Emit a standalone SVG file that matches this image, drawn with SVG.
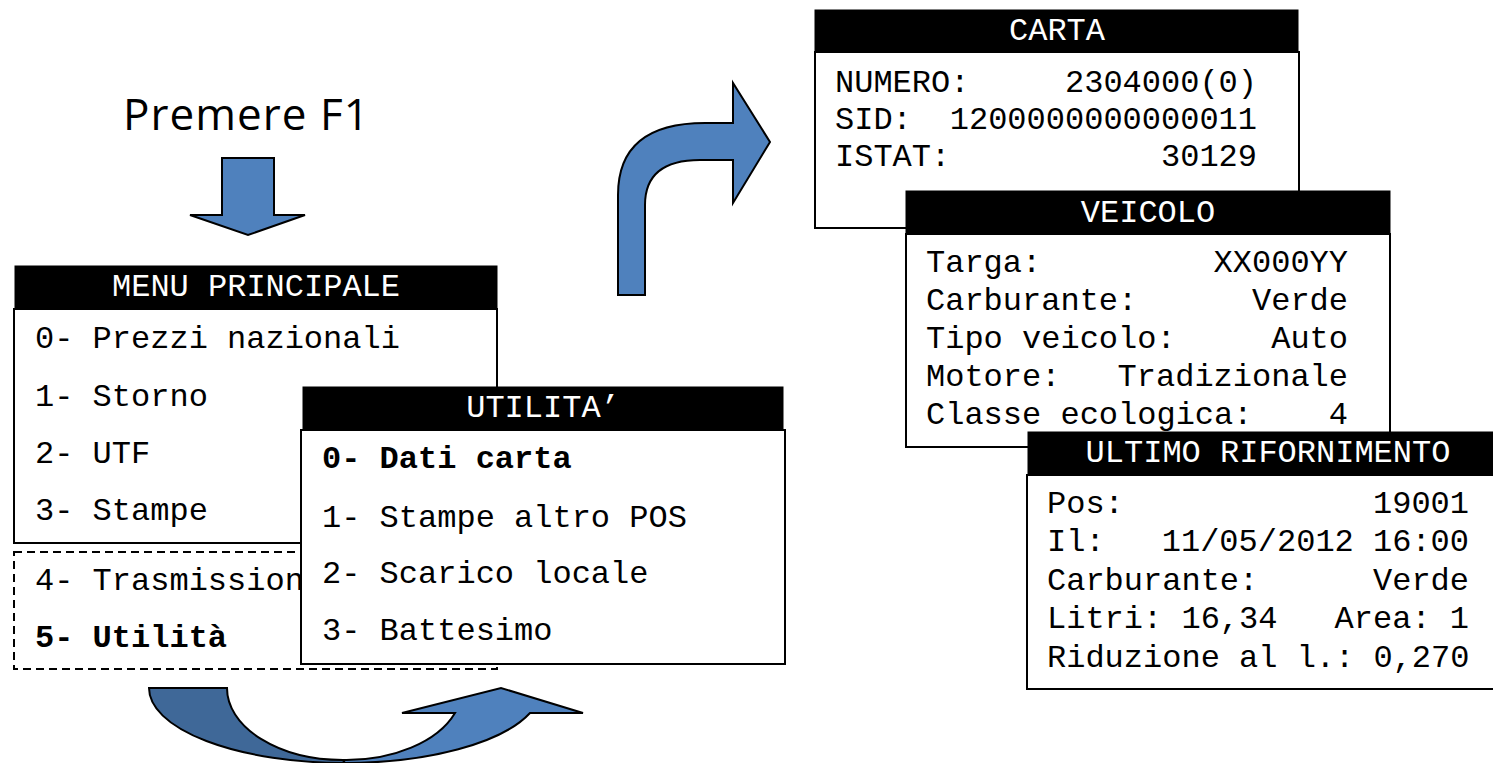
<svg xmlns="http://www.w3.org/2000/svg" width="1493" height="763" viewBox="0 0 1493 763">
<style>
.hd{fill:#000;stroke:#000;stroke-width:1}
.bx{fill:#fff;stroke:#000;stroke-width:2}
.dash{fill:#fff;stroke:#000;stroke-width:2;stroke-dasharray:8 5}
.m{font-family:"Liberation Mono","Courier New",monospace;font-size:32px;fill:#000}
.ht{font-family:"Liberation Mono","Courier New",monospace;font-size:32px;fill:#fff;text-anchor:middle}
.b{font-weight:bold}
.r{text-anchor:end}
.arr{fill:#4F81BD;stroke:#000;stroke-width:2;stroke-linejoin:miter}
.arrd{fill:#3F6898;stroke:#000;stroke-width:2}
</style>
<rect width="1493" height="763" fill="#fff"/>
<text id="title" x="123" y="130" font-family="'Open Sans','Noto Sans',sans-serif" font-size="44" textLength="246" fill="#000">Premere F1</text>
<g id="connectors">
  <path class="arr" d="M222,158 L274,158 L274,215 L305,215 L248,235 L190,215 L222,215 Z"/>
  <path class="arr" d="M618,295 L618,195 Q618,123 705,123 L733,123 L733,83 L770,142 L733,203 L733,160 L700,160 Q645,160 645,205 L645,295 Z"/>
  <path class="arrd" d="M149,688 L227,688 A116,72 0 0 0 343,760 L345,763 A196,75 0 0 1 149,688 Z"/>
  <path class="arr" d="M343,760 A116,72 0 0 0 455,713 L402,713 L501,688 L583,713 L530,713 A196,75 0 0 1 345,763 Z"/>
</g>
<g id="menu-principale">
  <rect class="bx" x="14" y="309" width="483" height="234"/>
  <rect class="dash" x="14" y="552" width="483" height="117"/>
  <rect class="hd" x="15" y="266" width="482" height="43"/>
  <text class="ht" x="256" y="296">MENU PRINCIPALE</text>
  <text class="m" x="35" y="348">0- Prezzi nazionali</text>
  <text class="m" x="35" y="406">1- Storno</text>
  <text class="m" x="35" y="463">2- UTF</text>
  <text class="m" x="35" y="520">3- Stampe</text>
  <text class="m" x="35" y="590">4- Trasmission</text>
  <text class="m b" x="35" y="647">5- Utilità</text>
</g>
<g id="utilita">
  <rect class="hd" x="303" y="387" width="480" height="43"/>
  <rect class="bx" x="301" y="430" width="484" height="234"/>
  <text class="ht" x="543" y="417">UTILITA’</text>
  <text class="m b" x="322" y="468">0- Dati carta</text>
  <text class="m" x="322" y="527">1- Stampe altro POS</text>
  <text class="m" x="322" y="583">2- Scarico locale</text>
  <text class="m" x="322" y="640">3- Battesimo</text>
</g>
<g id="carta">
  <rect class="bx" x="815" y="52" width="484" height="176"/>
  <rect class="hd" x="815" y="10" width="483" height="42"/>
  <text class="ht" x="1057" y="40">CARTA</text>
  <text class="m" x="835" y="92">NUMERO:</text><text class="m r" x="1257" y="92">2304000(0)</text>
  <text class="m" x="835" y="129">SID:</text><text class="m r" x="1257" y="129">1200000000000011</text>
  <text class="m" x="835" y="166">ISTAT:</text><text class="m r" x="1257" y="166">30129</text>
</g>
<g id="veicolo">
  <rect class="bx" x="906" y="234" width="484" height="213"/>
  <rect class="hd" x="906" y="191" width="484" height="43"/>
  <text class="ht" x="1148" y="222">VEICOLO</text>
  <text class="m" x="926" y="272">Targa:</text><text class="m r" x="1348" y="272">XX000YY</text>
  <text class="m" x="926" y="310">Carburante:</text><text class="m r" x="1348" y="310">Verde</text>
  <text class="m" x="926" y="348">Tipo veicolo:</text><text class="m r" x="1348" y="348">Auto</text>
  <text class="m" x="926" y="386">Motore:</text><text class="m r" x="1348" y="386">Tradizionale</text>
  <text class="m" x="926" y="424">Classe ecologica:</text><text class="m r" x="1348" y="424">4</text>
</g>
<g id="ultimo-rifornimento">
  <rect class="bx" x="1027" y="475" width="475" height="214"/>
  <rect class="hd" x="1028" y="432" width="470" height="43"/>
  <text class="ht" x="1268" y="462">ULTIMO RIFORNIMENTO</text>
  <text class="m" x="1047" y="513">Pos:</text><text class="m r" x="1469" y="513">19001</text>
  <text class="m" x="1047" y="551">Il:</text><text class="m r" x="1469" y="551">11/05/2012 16:00</text>
  <text class="m" x="1047" y="590">Carburante:</text><text class="m r" x="1469" y="590">Verde</text>
  <text class="m" x="1047" y="628">Litri: 16,34</text><text class="m r" x="1469" y="628">Area: 1</text>
  <text class="m" x="1047" y="667">Riduzione al l.: 0,270</text>
</g>
</svg>
